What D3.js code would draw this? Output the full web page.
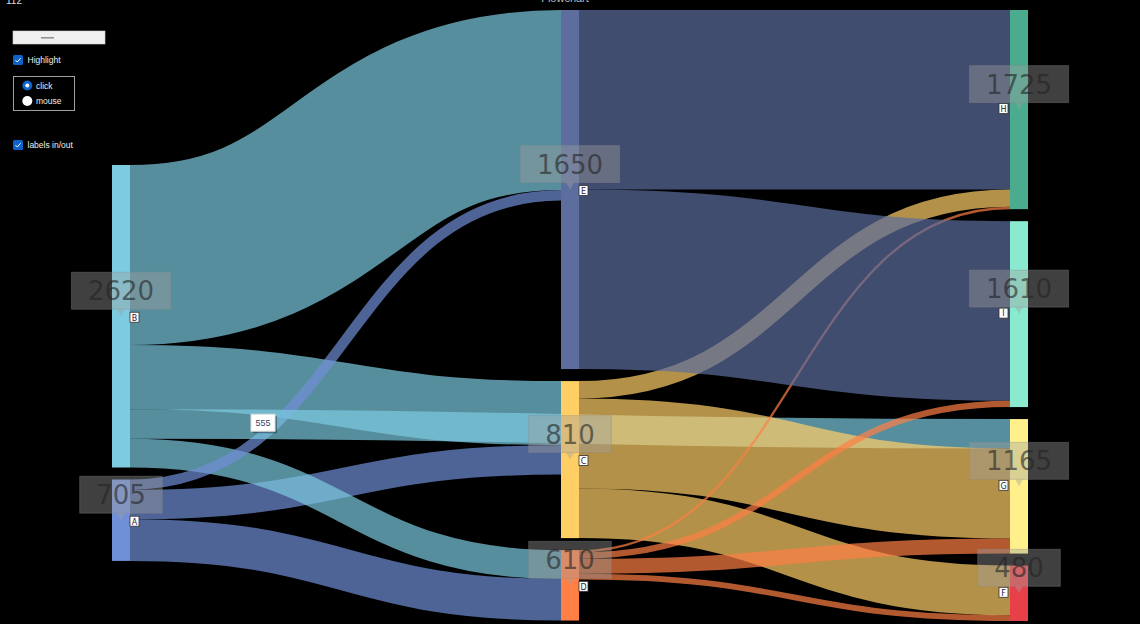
<!DOCTYPE html>
<html><head><meta charset="utf-8">
<script src="https://cdn.jsdelivr.net/npm/d3@7"></script>
<style>
html,body{margin:0;padding:0;background:#000;overflow:hidden}
svg{display:block}
</style></head>
<body>
<svg id="chart" width="1140" height="624"></svg>
<script>
// ---------- data ----------
const nodeNames   = ["B","A","E","C","D","H","I","G","F"];
const nodeColumns = [0,0,1,1,1,2,2,2,2];
const nodeColors  = ["#7ccbe0","#6f8fd6","#5d6e9e","#ffcf66","#ff7f45","#4aab8f","#8aead0","#fff08c","#e84048"];
// links listed (and drawn) grouped by target
const linkSources = ["B","A","B","A","B","A","C","D","B","C","D","E","C","D","E","D"];
const linkTargets = ["C","C","D","D","E","E","F","F","G","G","G","H","H","H","I","I"];
const linkValues  = [555,255,250,360,1560,90,430,50,255,780,130,1555,150,20,1555,55];
const titleText = "Flowchart";
const counterText = "112";
const controlLabels = ["Highlight","click","mouse","labels in/out"];
const tooltipLink = ["B","C"];

// ---------- layout ----------
const W = 1140, H = 624;
const ext = {x0:112, x1:1028, y0:10, y1:621};
const nodeWidth = 18, nodePadding = 12;
const firstColumnTop = 165;

const nodes = nodeNames.map((n,i)=>({name:n,col:nodeColumns[i],color:nodeColors[i],ins:[],outs:[]}));
const byName = new Map(nodes.map(d=>[d.name,d]));
const links = linkValues.map((v,i)=>({source:byName.get(linkSources[i]),target:byName.get(linkTargets[i]),value:v}));
links.forEach(l=>{l.source.outs.push(l);l.target.ins.push(l);});
nodes.forEach(n=>{
  n.inSum=d3.sum(n.ins,l=>l.value);
  n.outSum=d3.sum(n.outs,l=>l.value);
  n.value=Math.max(n.inSum,n.outSum);
  n.label=n.inSum>0?n.inSum:n.outSum;
});
const cols = d3.groups(nodes,d=>d.col).sort((a,b)=>a[0]-b[0]).map(d=>d[1]);
const ky = d3.min(cols,c=>(ext.y1-ext.y0-(c.length-1)*nodePadding)/d3.sum(c,d=>d.value));
const vScale = d3.scaleLinear().domain([0,1]).range([0,ky]);
const xCol = d3.scalePoint().domain(d3.range(cols.length)).range([ext.x0, ext.x1-nodeWidth]);

cols.forEach((c,ci)=>{
  let y = ci===0 ? firstColumnTop : ext.y0;
  c.forEach(n=>{
    n.x0 = xCol(ci); n.x1 = n.x0+nodeWidth;
    n.y0 = y; n.y1 = y+vScale(n.value);
    y = n.y1 + nodePadding;
  });
});
links.forEach(l=>l.width=vScale(l.value));
nodes.forEach(n=>{
  let y = n.y0;
  n.outs.slice().sort((a,b)=>a.target.y0-b.target.y0).forEach(l=>{l.y0=y+l.width/2;y+=l.width;});
  y = n.y0;
  n.ins.slice().sort((a,b)=>a.source.y0-b.source.y0).forEach(l=>{l.y1=y+l.width/2;y+=l.width;});
});

// ---------- draw ----------
const svg = d3.select("#chart");
svg.append("rect").attr("width",W).attr("height",H).attr("fill","#000");

const linkGen = d3.linkHorizontal().source(d=>[d.source.x1,d.y0]).target(d=>[d.target.x0,d.y1]);
svg.append("g").attr("fill","none").selectAll("path").data(links).join("path")
  .attr("d",linkGen)
  .attr("stroke",d=>d.source.color)
  .attr("stroke-opacity",0.7)
  .attr("stroke-width",d=>Math.max(1,d.width));

svg.append("g").selectAll("rect").data(nodes).join("rect")
  .attr("x",d=>d.x0).attr("y",d=>d.y0)
  .attr("width",d=>d.x1-d.x0).attr("height",d=>d.y1-d.y0)
  .attr("fill",d=>d.color);

// value labels
const lab = svg.append("g").selectAll("g").data(nodes).join("g")
  .attr("transform",d=>`translate(${(d.x0+d.x1)/2},${(d.y0+d.y1)/2})`);
const boxH = 37, tipH = 7, tipW = 4;
lab.each(function(d){
  const g = d3.select(this);
  const box = g.append("rect");
  const tip = g.append("path");
  const t = g.append("text")
    .attr("text-anchor","middle")
    .attr("y",-tipH-9)
    .attr("font-family","DejaVu Sans, sans-serif")
    .attr("font-size",26)
    .attr("fill","#222").attr("fill-opacity",0.6)
    .text(d.label);
  const tw = t.node().getComputedTextLength();
  const bw = tw + 33;
  box.attr("x",-bw/2).attr("y",-tipH-boxH).attr("width",bw).attr("height",boxH)
    .attr("fill","#a0a0a0").attr("fill-opacity",0.4)
    .attr("stroke","#8a8a8a").attr("stroke-opacity",0.35);
  tip.attr("d",`M${-tipW},${-tipH}L0,0L${tipW},${-tipH}Z`).attr("fill","#a0a0a0").attr("fill-opacity",0.4);
});

// letter tags
const lastCol = cols.length-1;
const tag = svg.append("g").selectAll("g").data(nodes).join("g")
  .attr("transform",d=>{
    const cy=(d.y0+d.y1)/2;
    return d.col===lastCol ? `translate(${d.x0-11},${cy-6})` : `translate(${d.x1},${cy-4})`;
  });
tag.append("rect").attr("width",9).attr("height",10)
  .attr("fill","#fff").attr("stroke","#333").attr("stroke-width",0.8);
tag.append("text").attr("x",4.5).attr("y",8.3).attr("text-anchor","middle")
  .attr("font-family","DejaVu Sans, sans-serif").attr("font-size",8).attr("fill","#2a2040")
  .text(d=>d.name);

// tooltip on link
const tl = links.find(l=>l.source.name===tooltipLink[0]&&l.target.name===tooltipLink[1]);
const tt = svg.append("g").attr("transform",`translate(${tl.source.x1+121},${tl.y0+tl.width/2+5})`);
tt.append("rect").attr("x",2).attr("y",2).attr("width",24).attr("height",17).attr("fill","#000").attr("fill-opacity",0.35);
tt.append("rect").attr("width",24).attr("height",17).attr("fill","#fff").attr("stroke","#ddd");
tt.append("text").attr("x",12).attr("y",12).attr("text-anchor","middle")
  .attr("font-family","Liberation Sans, Arial, sans-serif").attr("font-size",9).attr("fill","#3a4660").text(tl.value);

// title & counter
svg.append("text").attr("x",565).attr("y",2).attr("text-anchor","middle")
  .attr("font-family","Liberation Sans, Arial, sans-serif").attr("font-size",11).attr("fill","#bbb").text(titleText);
svg.append("text").attr("x",6).attr("y",4).attr("font-family","Liberation Sans, Arial, sans-serif")
  .attr("font-size",10).attr("fill","#ddd").text(counterText);

// controls
const ui = svg.append("g").attr("font-family","Liberation Sans, Arial, sans-serif").attr("font-size",8.5).attr("fill","#eee");
ui.append("rect").attr("x",13).attr("y",31).attr("width",92).attr("height",13).attr("fill","#f0f0f0").attr("stroke","#d0d0d0").attr("stroke-width",0.6);
ui.append("line").attr("x1",41).attr("x2",54).attr("y1",37.8).attr("y2",37.8).attr("stroke","#888").attr("stroke-width",1.4);
function checkbox(x,y,label){
  ui.append("rect").attr("x",x).attr("y",y).attr("width",10).attr("height",10).attr("rx",1.5).attr("fill","#0f62c9");
  ui.append("path").attr("d",`M${x+2.5},${y+5.2}L${x+4.3},${y+7}L${x+7.6},${y+3.2}`).attr("fill","none").attr("stroke","#fff").attr("stroke-width",1);
  ui.append("text").attr("x",x+14.5).attr("y",y+8.3).text(label);
}
checkbox(13,55,controlLabels[0]);
checkbox(13,140,controlLabels[3]);
ui.append("rect").attr("x",13.5).attr("y",76.5).attr("width",61).attr("height",34).attr("fill","none").attr("stroke","#a0a0a0");
ui.append("circle").attr("cx",27.3).attr("cy",85.5).attr("r",5).attr("fill","#0f62c9");
ui.append("circle").attr("cx",27.3).attr("cy",85.5).attr("r",2).attr("fill","#fff");
ui.append("text").attr("x",36).attr("y",88.5).text(controlLabels[1]);
ui.append("circle").attr("cx",27.3).attr("cy",101).attr("r",5).attr("fill","#fff");
ui.append("text").attr("x",36).attr("y",104).text(controlLabels[2]);
</script>
</body></html>
